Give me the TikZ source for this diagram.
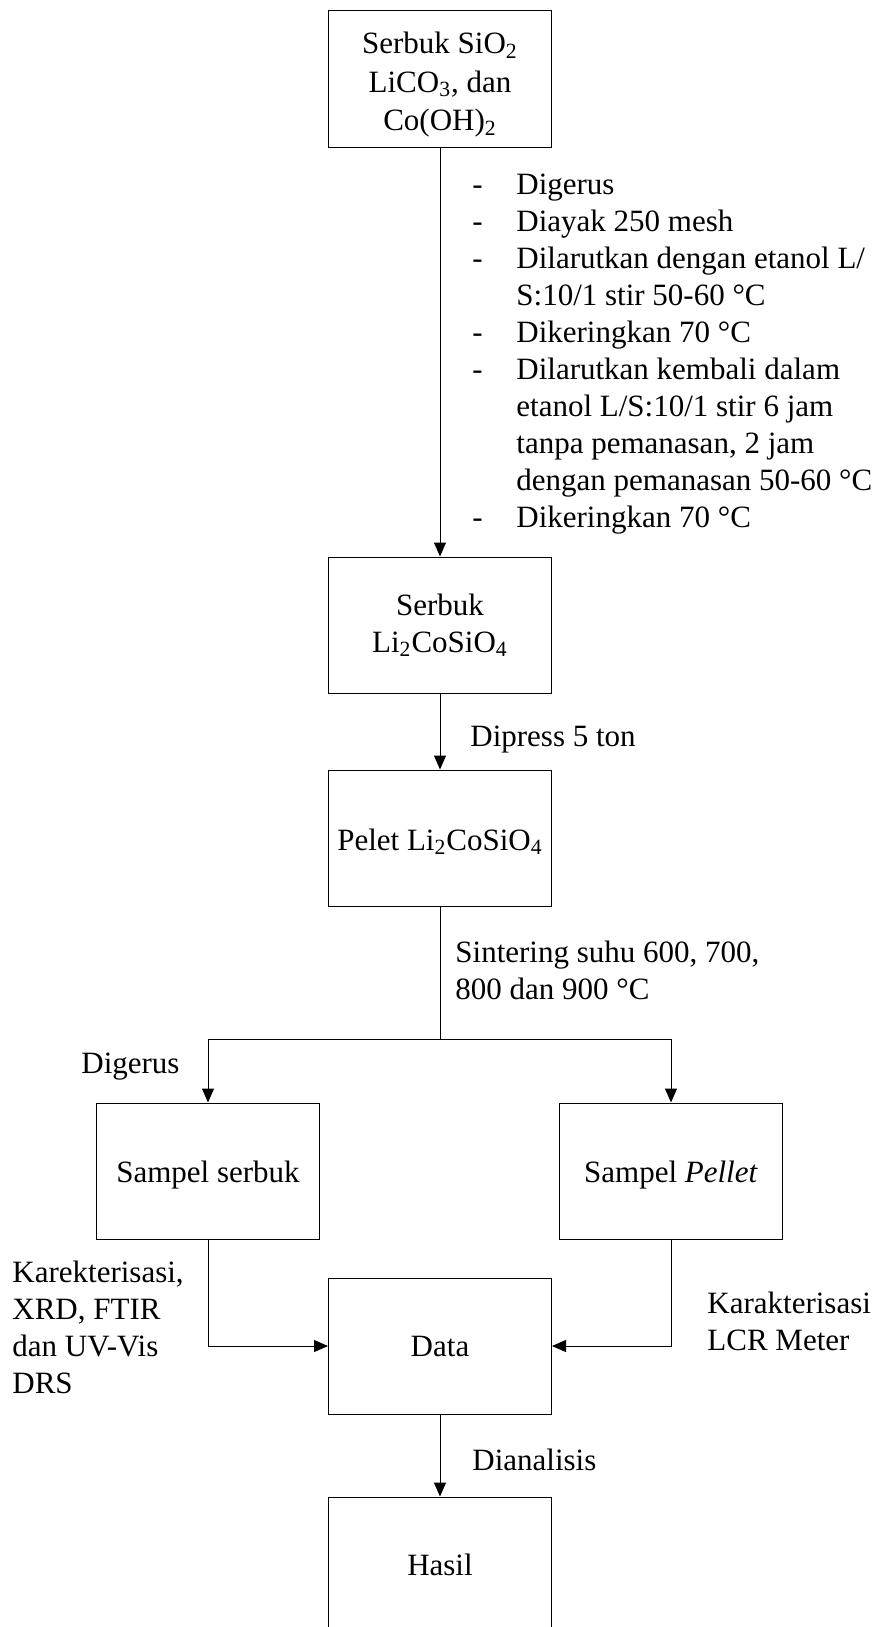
\documentclass[tikz,border=0pt]{standalone}
\usepackage{fontspec}
\setmainfont{Liberation Serif}
\usetikzlibrary{arrows.meta}

\begin{document}
\begin{tikzpicture}[x=0.5pt,y=-0.5pt,font=\fontsize{15.5}{18.5}\selectfont,
  kotak/.style={draw,line width=0.5pt,minimum width=111.5pt,minimum height=68pt,align=center,inner sep=2pt},
  panah/.style={line width=0.5pt,-{Triangle[length=7pt,width=6pt]}},
  garis/.style={line width=0.5pt},
  ket/.style={anchor=west,align=left,inner sep=0pt}]
\useasboundingbox (0,0) rectangle (879,1627);
\node[kotak] (bahan) at (440,79) {\rule{0pt}{16.5pt}Serbuk SiO\textsubscript{2}\\[0.8pt]LiCO\textsubscript{3}, dan\\[0.8pt]Co(OH)\textsubscript{2}};
\node[kotak] (serbuk) at (440,625) {Serbuk\\Li\textsubscript{2}CoSiO\textsubscript{4}};
\node[kotak] (pelet) at (440,838) {\rule{0pt}{14.5pt}Pelet Li\textsubscript{2}CoSiO\textsubscript{4}};
\node[kotak] (sserbuk) at (208,1171) {\rule{0pt}{14.5pt}Sampel serbuk};
\node[kotak] (spelet) at (671,1171) {\rule{0pt}{14.5pt}Sampel \textit{Pellet}};
\node[kotak] (data) at (440,1346) {Data};
\node[kotak] (hasil) at (440,1565) {Hasil};
\coordinate (cabang) at (440,1039);
\node[ket] (langkah) at (472,354) {\begin{tabular}{@{}p{22pt}@{}l@{}}
- & Digerus\\
- & Diayak 250 mesh\\
- & Dilarutkan dengan etanol L/\\
  & S:10/1 stir 50-60 °C\\
- & Dikeringkan 70 °C\\
- & Dilarutkan kembali dalam\\
  & etanol L/S:10/1 stir 6 jam\\
  & tanpa pemanasan, 2 jam\\
  & dengan pemanasan 50-60 °C\\
- & Dikeringkan 70 °C
\end{tabular}};
\node[ket] (ketpress) at (470,740) {Dipress 5 ton};
\node[ket] (ketsinter) at (455,970) {Sintering suhu 600, 700,\\800 dan 900 °C};
\node[ket] (ketgerus) at (81,1067) {Digerus};
\node[ket] (ketserbuk) at (12,1327) {Karekterisasi,\\XRD, FTIR\\dan UV-Vis\\DRS};
\node[ket] (ketpelet) at (707,1321) {Karakterisasi\\LCR Meter};
\node[ket] (ketanalisis) at (472,1460) {Dianalisis};
\draw[panah] (bahan) -- (serbuk);
\draw[panah] (serbuk) -- (pelet);
\draw[garis] (pelet) -- (cabang);
\draw[panah] (cabang) -| (sserbuk);
\draw[panah] (cabang) -| (spelet);
\draw[panah] (sserbuk) |- (data);
\draw[panah] (spelet) |- (data);
\draw[panah] (data) -- (hasil);
\end{tikzpicture}
\end{document}
